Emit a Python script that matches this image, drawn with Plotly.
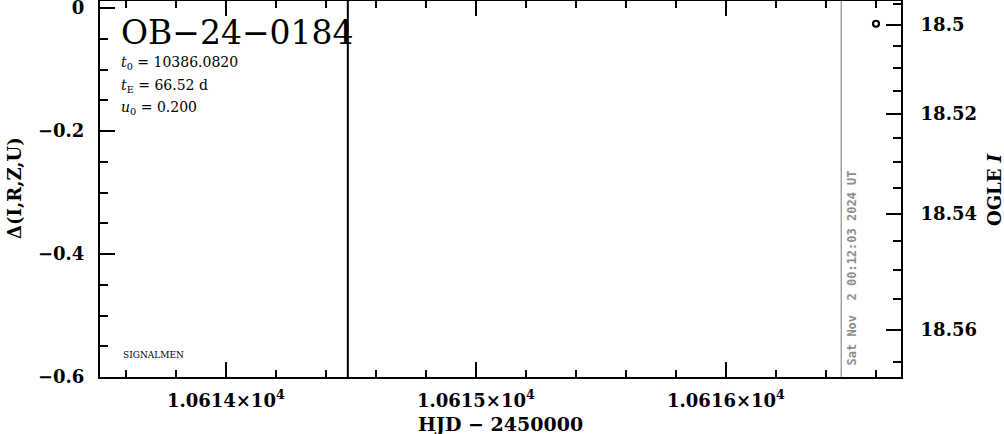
import numpy as np
import plotly.graph_objects as go

# ---------------- data ----------------
event_name = "OB−24−0184"
t0_text = "10386.0820"
tE_text = "66.52 d"
u0_text = "0.200"
timestamp = "Sat Nov\u00a0\u00a02 00:12:03 2024 UT"
footer = "SIGNALMEN"

x_range = [10613.497, 10616.70]
delta_range = [-0.6, 0.0114]

x_tick_vals = [10614, 10615, 10616]
x_tick_text = ["1.0614×10<sup>4</sup>", "1.0615×10<sup>4</sup>", "1.0616×10<sup>4</sup>"]
delta_tick_vals = [0, -0.2, -0.4, -0.6]
delta_tick_text = ["0", "−0.2", "−0.4", "−0.6"]
mag_tick_vals = [18.50, 18.52, 18.54, 18.56]
mag_tick_text = ["18.5", "18.52", "18.54", "18.56"]
mag_minor_vals = [18.495, 18.505, 18.510, 18.515, 18.525, 18.530, 18.535,
                  18.545, 18.550, 18.555, 18.565]

obs_hjd = [10616.60]
obs_mag = [18.4997]

last_obs_hjd = 10614.488   # black vertical line
now_hjd = 10616.461        # grey vertical line (time of plot)

base_mag = 18.4959
source_frac = 0.15


def delta_from_mag(m):
    m = np.asarray(m, dtype=float)
    g = m - base_mag
    r = (10 ** (-0.4 * g) - 1 + source_frac) / source_frac
    return 2.5 * np.log10(r)


# ---------------- layout helpers ----------------
W, H = 1004, 434
L, R, T, B = 100, 103, 1, 57
PW, PH = W - L - R, H - T - B


def xp(px):
    return (px - L) / PW


def yp(py):
    return (H - B - py) / PH


serif = "DejaVu Serif"
tickfont = dict(family=serif, size=18, color="black", weight="bold")

fig = go.Figure()

fig.add_trace(go.Scatter(
    x=obs_hjd, y=delta_from_mag(obs_mag).tolist(), mode="markers",
    marker=dict(symbol="circle-open", size=6, color="black", line=dict(width=2.2, color="black")),
    showlegend=False, hoverinfo="skip", cliponaxis=False))

# invisible trace to activate y2
fig.add_trace(go.Scatter(x=[x_range[0]], y=[-0.3], yaxis="y2", mode="markers",
                         marker=dict(opacity=0), showlegend=False, hoverinfo="skip"))

fig.update_layout(
    width=W, height=H,
    margin=dict(l=L, r=R, t=T, b=B, pad=0, autoexpand=False),
    paper_bgcolor="white", plot_bgcolor="white",
    xaxis=dict(range=x_range, tickvals=x_tick_vals, ticktext=x_tick_text,
               ticks="inside", ticklen=15, tickwidth=2, tickcolor="black",
               showline=True, linewidth=2, linecolor="black", mirror="ticks",
               showgrid=False, zeroline=False, tickfont=tickfont,
               ticklabelstandoff=6, automargin=False, ticklabeloverflow="allow",
               minor=dict(dtick=0.2, tick0=10614, ticks="inside", ticklen=7,
                          tickwidth=2, tickcolor="black", showgrid=False)),
    yaxis=dict(range=delta_range, tickvals=delta_tick_vals, ticktext=delta_tick_text,
               ticks="inside", ticklen=15, tickwidth=2, tickcolor="black",
               showline=True, linewidth=2, linecolor="black",
               showgrid=False, zeroline=False, tickfont=tickfont,
               ticklabelstandoff=10, automargin=False, ticklabeloverflow="allow",
               minor=dict(dtick=0.05, tick0=0, ticks="inside", ticklen=8,
                          tickwidth=2, tickcolor="black", showgrid=False)),
    yaxis2=dict(range=delta_range, overlaying="y", side="right",
                tickvals=delta_from_mag(mag_tick_vals).tolist(), ticktext=mag_tick_text,
                ticks="inside", ticklen=15, tickwidth=2, tickcolor="black",
                showline=True, linewidth=2, linecolor="black",
                showgrid=False, zeroline=False, tickfont=tickfont,
                ticklabelstandoff=14, automargin=False, ticklabeloverflow="allow",
                minor=dict(tickvals=delta_from_mag(mag_minor_vals).tolist(), ticks="inside",
                           ticklen=8, tickwidth=2, tickcolor="black", showgrid=False)),
)

fig.add_shape(type="line", xref="x", yref="paper", x0=last_obs_hjd, x1=last_obs_hjd,
              y0=0, y1=1, line=dict(color="black", width=2))
fig.add_shape(type="line", xref="x", yref="paper", x0=now_hjd, x1=now_hjd,
              y0=0, y1=1, line=dict(color="#8c8c8c", width=1.2))

ann = []
ann.append(dict(text=event_name, x=xp(119), y=yp(32), xanchor="left", yanchor="middle",
                font=dict(family=serif, size=33, color="black")))
ann.append(dict(text="<i>t</i><sub>0</sub> = " + t0_text, x=xp(119), y=yp(63),
                xanchor="left", yanchor="middle", font=dict(family=serif, size=14, color="black")))
ann.append(dict(text="<i>t</i><sub>E</sub> = " + tE_text, x=xp(119), y=yp(86),
                xanchor="left", yanchor="middle", font=dict(family=serif, size=14, color="black")))
ann.append(dict(text="<i>u</i><sub>0</sub> = " + u0_text, x=xp(119), y=yp(108),
                xanchor="left", yanchor="middle", font=dict(family=serif, size=14, color="black")))
ann.append(dict(text=footer, x=xp(121), y=yp(355), xanchor="left", yanchor="middle",
                font=dict(family=serif, size=9, color="black")))
ann.append(dict(text=timestamp, x=xp(851.5), y=yp(268), xanchor="center", yanchor="middle",
                textangle=-90, font=dict(family="DejaVu Sans Mono", size=12, color="#8c8c8c",
                                          weight="bold")))
ann.append(dict(text="HJD − 2450000", x=xp(500), y=yp(424), xanchor="center", yanchor="middle",
                font=dict(family=serif, size=19, color="black", weight="bold")))
ann.append(dict(text="Δ(I,R,Z,U)", x=xp(14), y=yp(188), xanchor="center", yanchor="middle",
                textangle=-90, font=dict(family=serif, size=18, color="black", weight="bold")))
ann.append(dict(text="OGLE <i>I</i>", x=xp(994), y=yp(190), xanchor="center", yanchor="middle",
                textangle=-90, font=dict(family=serif, size=18, color="black", weight="bold")))
for a in ann:
    a.update(xref="paper", yref="paper", showarrow=False)
fig.update_layout(annotations=ann)

fig.write_html("out.html", config={"displayModeBar": False},
               post_script="document.body.style.margin='0';document.body.style.padding='0';")
